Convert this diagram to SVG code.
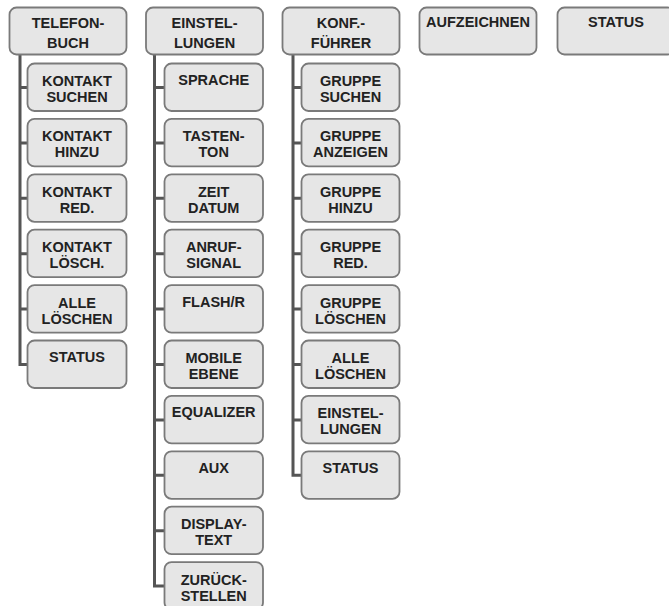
<svg xmlns="http://www.w3.org/2000/svg" width="669" height="606" viewBox="0 0 669 606">
<style>
.b{fill:#e6e6e6;stroke:#7a7a7a;stroke-width:1.8}
.t{font-family:"Liberation Sans",Arial,sans-serif;font-weight:bold;font-size:14.5px;fill:#222;text-anchor:middle}
.c{fill:none;stroke:#555;stroke-width:3}
</style>
<rect width="669" height="606" fill="#fff"/>
<g id="connectors">
<path class="c" d="M20,55V364.5H27M20,87.5H27M20,142.9H27M20,198.3H27M20,253.7H27M20,309.1H27"/>
<path class="c" d="M154.5,55V586.1H164M154.5,87.5H164M154.5,142.9H164M154.5,198.3H164M154.5,253.7H164M154.5,309.1H164M154.5,364.5H164M154.5,419.9H164M154.5,475.3H164M154.5,530.7H164"/>
<path class="c" d="M293,55V475.3H301M293,87.5H301M293,142.9H301M293,198.3H301M293,253.7H301M293,309.1H301M293,364.5H301M293,419.9H301"/>
</g>
<g id="telefonbuch"><rect class="b" x="9.5" y="7.5" width="117" height="47" rx="7"/><text class="t" x="68" y="28">TELEFON-</text><text class="t" x="68" y="47.5">BUCH</text></g>
<g id="einstellungen"><rect class="b" x="146" y="7.5" width="117" height="47" rx="7"/><text class="t" x="204.5" y="28">EINSTEL-</text><text class="t" x="204.5" y="47.5">LUNGEN</text></g>
<g id="konf"><rect class="b" x="282.5" y="7.5" width="117" height="47" rx="7"/><text class="t" x="341" y="28">KONF.-</text><text class="t" x="341" y="47.5">FÜHRER</text></g>
<g id="aufzeichnen"><rect class="b" x="419.5" y="7.5" width="117" height="47" rx="7"/><text class="t" x="478" y="27">AUFZEICHNEN</text></g>
<g id="status-top"><rect class="b" x="557.5" y="7.5" width="117" height="47" rx="7"/><text class="t" x="616" y="27">STATUS</text></g>

<g id="kontakt-suchen"><rect class="b" x="27.5" y="63.5" width="99" height="47.5" rx="7"/><text class="t" x="77" y="86">KONTAKT</text><text class="t" x="77" y="102">SUCHEN</text></g>
<g id="kontakt-hinzu"><rect class="b" x="27.5" y="118.9" width="99" height="47.5" rx="7"/><text class="t" x="77" y="141.4">KONTAKT</text><text class="t" x="77" y="157.4">HINZU</text></g>
<g id="kontakt-red"><rect class="b" x="27.5" y="174.3" width="99" height="47.5" rx="7"/><text class="t" x="77" y="196.8">KONTAKT</text><text class="t" x="77" y="212.8">RED.</text></g>
<g id="kontakt-loesch"><rect class="b" x="27.5" y="229.7" width="99" height="47.5" rx="7"/><text class="t" x="77" y="252.2">KONTAKT</text><text class="t" x="77" y="268.2">LÖSCH.</text></g>
<g id="alle-loeschen-1"><rect class="b" x="27.5" y="285.1" width="99" height="47.5" rx="7"/><text class="t" x="77" y="307.6">ALLE</text><text class="t" x="77" y="323.6">LÖSCHEN</text></g>
<g id="status-1"><rect class="b" x="27.5" y="340.5" width="99" height="47.5" rx="7"/><text class="t" x="77" y="362">STATUS</text></g>

<g id="sprache"><rect class="b" x="164.5" y="63.5" width="98.5" height="47.5" rx="7"/><text class="t" x="213.7" y="85">SPRACHE</text></g>
<g id="tastenton"><rect class="b" x="164.5" y="118.9" width="98.5" height="47.5" rx="7"/><text class="t" x="213.7" y="141.4">TASTEN-</text><text class="t" x="213.7" y="157.4">TON</text></g>
<g id="zeit-datum"><rect class="b" x="164.5" y="174.3" width="98.5" height="47.5" rx="7"/><text class="t" x="213.7" y="196.8">ZEIT</text><text class="t" x="213.7" y="212.8">DATUM</text></g>
<g id="anrufsignal"><rect class="b" x="164.5" y="229.7" width="98.5" height="47.5" rx="7"/><text class="t" x="213.7" y="252.2">ANRUF-</text><text class="t" x="213.7" y="268.2">SIGNAL</text></g>
<g id="flash"><rect class="b" x="164.5" y="285.1" width="98.5" height="47.5" rx="7"/><text class="t" x="213.7" y="306.6">FLASH/R</text></g>
<g id="mobile-ebene"><rect class="b" x="164.5" y="340.5" width="98.5" height="47.5" rx="7"/><text class="t" x="213.7" y="363">MOBILE</text><text class="t" x="213.7" y="379">EBENE</text></g>
<g id="equalizer"><rect class="b" x="164.5" y="395.9" width="98.5" height="47.5" rx="7"/><text class="t" x="213.7" y="417.4">EQUALIZER</text></g>
<g id="aux"><rect class="b" x="164.5" y="451.3" width="98.5" height="47.5" rx="7"/><text class="t" x="213.7" y="472.8">AUX</text></g>
<g id="displaytext"><rect class="b" x="164.5" y="506.7" width="98.5" height="47.5" rx="7"/><text class="t" x="213.7" y="529.2">DISPLAY-</text><text class="t" x="213.7" y="545.2">TEXT</text></g>
<g id="zuruecksetzen"><rect class="b" x="164.5" y="562.1" width="98.5" height="47.5" rx="7"/><text class="t" x="213.7" y="584.6">ZURÜCK-</text><text class="t" x="213.7" y="600.6">STELLEN</text></g>

<g id="gruppe-suchen"><rect class="b" x="301.5" y="63.5" width="98" height="47.5" rx="7"/><text class="t" x="350.5" y="86">GRUPPE</text><text class="t" x="350.5" y="102">SUCHEN</text></g>
<g id="gruppe-anzeigen"><rect class="b" x="301.5" y="118.9" width="98" height="47.5" rx="7"/><text class="t" x="350.5" y="141.4">GRUPPE</text><text class="t" x="350.5" y="157.4">ANZEIGEN</text></g>
<g id="gruppe-hinzu"><rect class="b" x="301.5" y="174.3" width="98" height="47.5" rx="7"/><text class="t" x="350.5" y="196.8">GRUPPE</text><text class="t" x="350.5" y="212.8">HINZU</text></g>
<g id="gruppe-red"><rect class="b" x="301.5" y="229.7" width="98" height="47.5" rx="7"/><text class="t" x="350.5" y="252.2">GRUPPE</text><text class="t" x="350.5" y="268.2">RED.</text></g>
<g id="gruppe-loeschen"><rect class="b" x="301.5" y="285.1" width="98" height="47.5" rx="7"/><text class="t" x="350.5" y="307.6">GRUPPE</text><text class="t" x="350.5" y="323.6">LÖSCHEN</text></g>
<g id="alle-loeschen-3"><rect class="b" x="301.5" y="340.5" width="98" height="47.5" rx="7"/><text class="t" x="350.5" y="363">ALLE</text><text class="t" x="350.5" y="379">LÖSCHEN</text></g>
<g id="einstellungen-3"><rect class="b" x="301.5" y="395.9" width="98" height="47.5" rx="7"/><text class="t" x="350.5" y="418.4">EINSTEL-</text><text class="t" x="350.5" y="434.4">LUNGEN</text></g>
<g id="status-3"><rect class="b" x="301.5" y="451.3" width="98" height="47.5" rx="7"/><text class="t" x="350.5" y="472.8">STATUS</text></g>
</svg>
